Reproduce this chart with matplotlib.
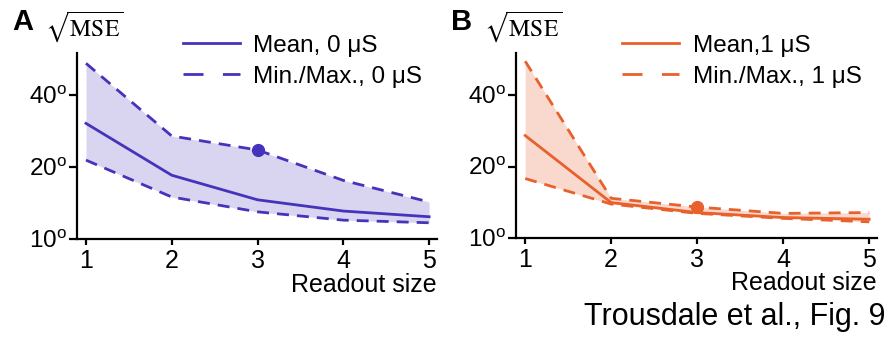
import matplotlib.pyplot as plt
from matplotlib.lines import Line2D
from matplotlib.ticker import FixedLocator, NullLocator

plt.rcParams['font.family'] = ['Liberation Sans', 'DejaVu Sans']
plt.rcParams['mathtext.fontset'] = 'custom'
plt.rcParams['mathtext.rm'] = 'Liberation Sans'
plt.rcParams['mathtext.it'] = 'Liberation Sans:italic'

readout = [1, 2, 3, 4, 5]

# panel A, 0 uS
mean_a = [30.5, 18.5, 14.6, 13.1, 12.4]
max_a = [54.4, 27.0, 23.6, 17.6, 14.3]
min_a = [21.4, 15.0, 13.0, 12.0, 11.7]

# panel B, 1 uS
mean_b = [27.0, 14.1, 12.8, 12.2, 12.0]
max_b = [55.5, 14.7, 13.5, 12.7, 12.8]
min_b = [17.8, 13.9, 12.7, 12.1, 11.7]

yticks = [10, 20, 40]
ytick_labels = [r'10$^{\rm o}$', r'20$^{\rm o}$', r'40$^{\rm o}$']

LW = 2.0
DASH = (0, (4.3, 2.9))


def draw_panel(ax, mean, mx, mn, color, fill, lab_mean, lab_mm, letter):
    ax.fill_between(readout, mn, mx, color=fill, lw=0)
    ax.plot(readout, mean, color=color, lw=LW)
    ax.plot(readout, mx, color=color, lw=LW, ls=DASH)
    ax.plot(readout, mn, color=color, lw=LW, ls=DASH)
    ax.plot([readout[2]], [mx[2]], 'o', color=color, ms=8.5)

    ax.set_yscale('log', base=2)
    ax.set_ylim(10, 60)
    ax.set_xlim(0.895, 5.09)
    ax.yaxis.set_major_locator(FixedLocator(yticks))
    ax.yaxis.set_minor_locator(NullLocator())
    ax.set_yticklabels(ytick_labels)
    ax.set_xticks(readout)

    for s in ['top', 'right']:
        ax.spines[s].set_visible(False)
    for s in ['left', 'bottom']:
        ax.spines[s].set_linewidth(1.6)
    ax.tick_params(axis='y', length=6, width=1.6, pad=1, labelsize=17.5)
    ax.tick_params(axis='x', length=4, width=1.6, pad=3, labelsize=18)

    ax.set_xlabel('Readout size', fontsize=18, loc='right')
    ax.xaxis.label.set_va('center')
    ax.xaxis.set_label_coords(1.0, -0.245)

    handles = [Line2D([], [], color=color, lw=LW),
               Line2D([], [], color=color, lw=LW, ls=(0, (7.2, 7.0)))]
    ax.legend(handles, [lab_mean, lab_mm], loc='upper left',
              bbox_to_anchor=(0.294, 1.1), frameon=False, fontsize=17.5,
              handlelength=2.35, handletextpad=0.55, labelspacing=0.38,
              borderaxespad=0, borderpad=0)

    ax.text(-0.18, 1.167, letter, transform=ax.transAxes, fontsize=21,
            fontweight='bold', ha='left', va='center')
    ax.text(-0.09, 1.145, r'$\sqrt{\mathrm{MSE}}$', transform=ax.transAxes,
            fontsize=17, math_fontfamily='stix', ha='left', va='center')


fig = plt.figure(figsize=(8.93, 3.43), dpi=100)
ax_a = fig.add_axes([0.0862, 0.303, 0.403, 0.542])
ax_b = fig.add_axes([0.578, 0.306, 0.404, 0.539])

draw_panel(ax_a, mean_a, max_a, min_a, '#4433bb', '#d9d5f0',
           'Mean, 0 μS', 'Min./Max., 0 μS', 'A')
draw_panel(ax_b, mean_b, max_b, min_b, '#e8602c', '#f9d9cd',
           'Mean,1 μS', 'Min./Max., 1 μS', 'B')

fig.text(0.992, 0.075, 'Trousdale et al., Fig. 9', fontsize=22,
         ha='right', va='center')

fig.savefig('out.png', dpi=100)
